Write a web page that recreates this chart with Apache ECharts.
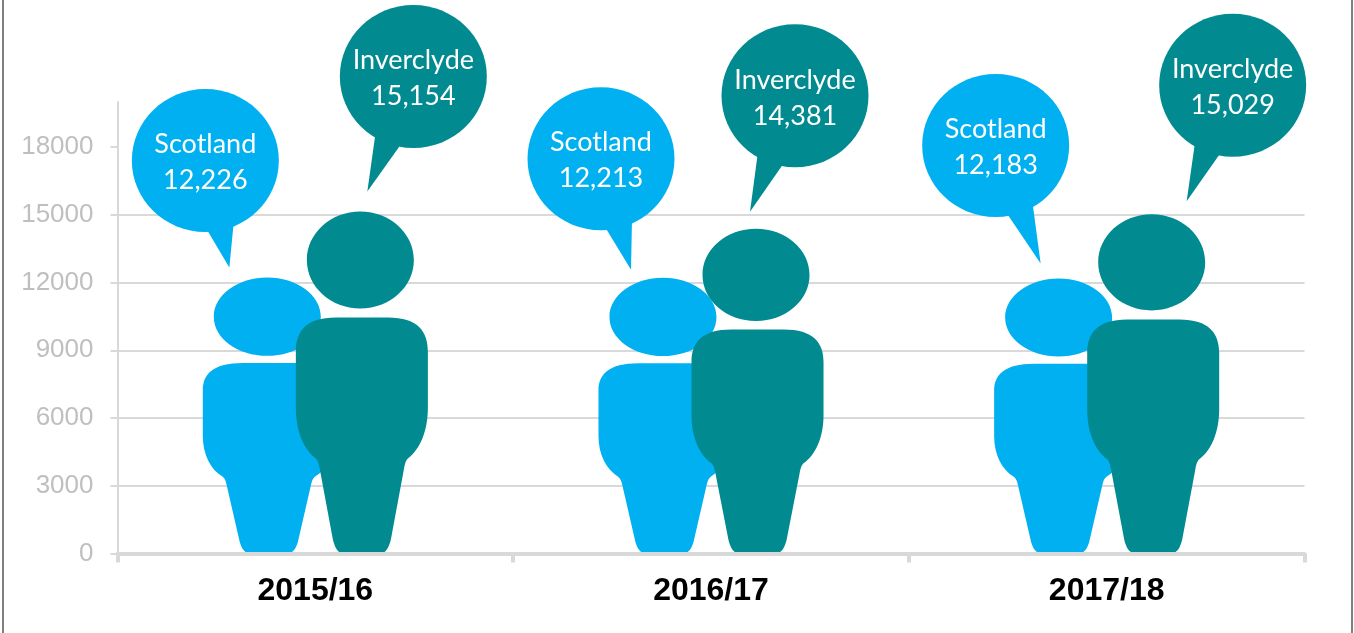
<!DOCTYPE html>
<html>
<head>
<meta charset="utf-8">
<style>html,body{margin:0;padding:0;background:#fff}#chart{width:1354px;height:633px}</style>
<script src="https://cdn.jsdelivr.net/npm/echarts@6/dist/echarts.min.js"></script>
</head>
<body>
<div id="chart"></div>
<script>
// Average values per year, shown as a pair of people per category
const years = ['2015/16', '2016/17', '2017/18'];
const scotland = [12226, 12213, 12183];
const inverclyde = [15154, 14381, 15029];
const yTicks = [0, 3000, 6000, 9000, 12000, 15000, 18000];

const BLUE = '#00B0F0';
const TEAL = '#028A91';
const GRID = '#D9D9D9';

// Person silhouette: head plus body, stretched to the height of each value
const personPath = 'path://M11 48.5C11 21.7 34.95 0 64.5 0C94 0 118 21.7 118 48.5C118 75.3 94 97 64.5 97C34.95 97 11 75.3 11 48.5Z' +
  'M40 106L92 106C122 106 132 120 132 140L132 196C132 220 124 238 112 247C110 249 109 252 108 258L95 328C93 336 90 342 84 342' +
  'L48 342C42 342 39 336 37 328L24 258C23 252 22 249 20 247C8 238 0 220 0 196L0 140C0 120 10 106 40 106Z';

// Speech bubble placement, relative to the top of the figure's category position
const scotlandBubbles = [
  { centre: [-110, -117], tip: [24, 107] },
  { centre: [-110, -119], tip: [30, 111] },
  { centre: [-111, -133], tip: [45, 118] }
];
const inverclydeBubbles = [
  { centre: [98, -135], tip: [-46, 115] },
  { centre: [84, -133], tip: [-45, 116] },
  { centre: [126, -129], tip: [-46, 116] }
];

const RX = 73.5, RY = 71.5, TAIL_SPREAD = 11 * Math.PI / 180;

function bubbleRenderer(name, values, bubbles, color) {
  return function (params, api) {
    const i = params.dataIndex;
    const anchor = api.coord([api.value(0), api.value(1)]);
    const b = bubbles[i];
    const cx = anchor[0] + b.centre[0];
    const cy = anchor[1] + b.centre[1];
    const angle = Math.atan2(b.tip[1] / RY, b.tip[0] / RX);
    const edge = (a) => [cx + RX * 0.97 * Math.cos(a), cy + RY * 0.97 * Math.sin(a)];
    return {
      type: 'group',
      children: [
        { type: 'ellipse', shape: { cx, cy, rx: RX, ry: RY }, style: { fill: color } },
        {
          type: 'polygon',
          shape: { points: [edge(angle - TAIL_SPREAD), edge(angle + TAIL_SPREAD), [cx + b.tip[0], cy + b.tip[1]]] },
          style: { fill: color }
        },
        {
          type: 'text',
          style: {
            x: cx, y: cy - 16, text: name, fill: '#fff',
            font: '27px Lato', align: 'center', verticalAlign: 'middle'
          }
        },
        {
          type: 'text',
          style: {
            x: cx, y: cy + 20, text: values[i].toLocaleString('en-US'), fill: '#fff',
            font: '27px Lato', align: 'center', verticalAlign: 'middle'
          }
        }
      ]
    };
  };
}

function personSeries(name, values, color) {
  return {
    name, type: 'pictorialBar', data: values,
    symbol: personPath,
    symbolSize: [132, '100%'],
    symbolPosition: 'start',
    barWidth: 132,
    barGap: '-29.5%',
    itemStyle: { color },
    silent: true, z: 2
  };
}

function bubbleSeries(name, values, bubbles, color) {
  return {
    name: name + ' callout', type: 'custom',
    data: values.map((v, i) => [i, v]),
    encode: { x: 0, y: 1 },
    renderItem: bubbleRenderer(name, values, bubbles, color),
    clip: false, silent: true, z: 4
  };
}

const chart = echarts.init(document.getElementById('chart'), null, { renderer: 'canvas' });
chart.setOption({
  animation: false,
  backgroundColor: '#fff',
  grid: { left: 117.5, right: 49.5, top: 102, bottom: 79.5, containLabel: false },
  xAxis: {
    type: 'category', data: years, z: 3,
    axisLine: { lineStyle: { color: GRID, width: 4 } },
    axisTick: { show: true, length: 9, lineStyle: { color: GRID, width: 4 } },
    axisLabel: { margin: 22, color: '#000', fontFamily: 'Liberation Sans', fontWeight: 'bold', fontSize: 32 }
  },
  yAxis: {
    type: 'value', min: 0, max: 20000, interval: 3000,
    axisLine: { show: true, lineStyle: { color: GRID, width: 2 } },
    axisTick: { show: true, length: 7, customValues: yTicks, lineStyle: { color: GRID, width: 2 } },
    axisLabel: {
      customValues: yTicks, margin: 24, color: '#BFBFBF', fontFamily: 'Liberation Sans', fontSize: 26,
      padding: [2, 0, 0, 0],
      formatter: (v) => String(v)
    },
    splitLine: { show: true, showMaxLine: false, lineStyle: { color: GRID, width: 2 } }
  },
  graphic: [
    { type: 'line', shape: { x1: 3, y1: 0, x2: 3, y2: 633 }, style: { stroke: '#808080', lineWidth: 2 } },
    { type: 'line', shape: { x1: 1352, y1: 0, x2: 1352, y2: 633 }, style: { stroke: '#808080', lineWidth: 2 } }
  ],
  series: [
    personSeries('Scotland', scotland, BLUE),
    personSeries('Inverclyde', inverclyde, TEAL),
    bubbleSeries('Scotland', scotland, scotlandBubbles, BLUE),
    bubbleSeries('Inverclyde', inverclyde, inverclydeBubbles, TEAL)
  ]
});
</script>
</body>
</html>
